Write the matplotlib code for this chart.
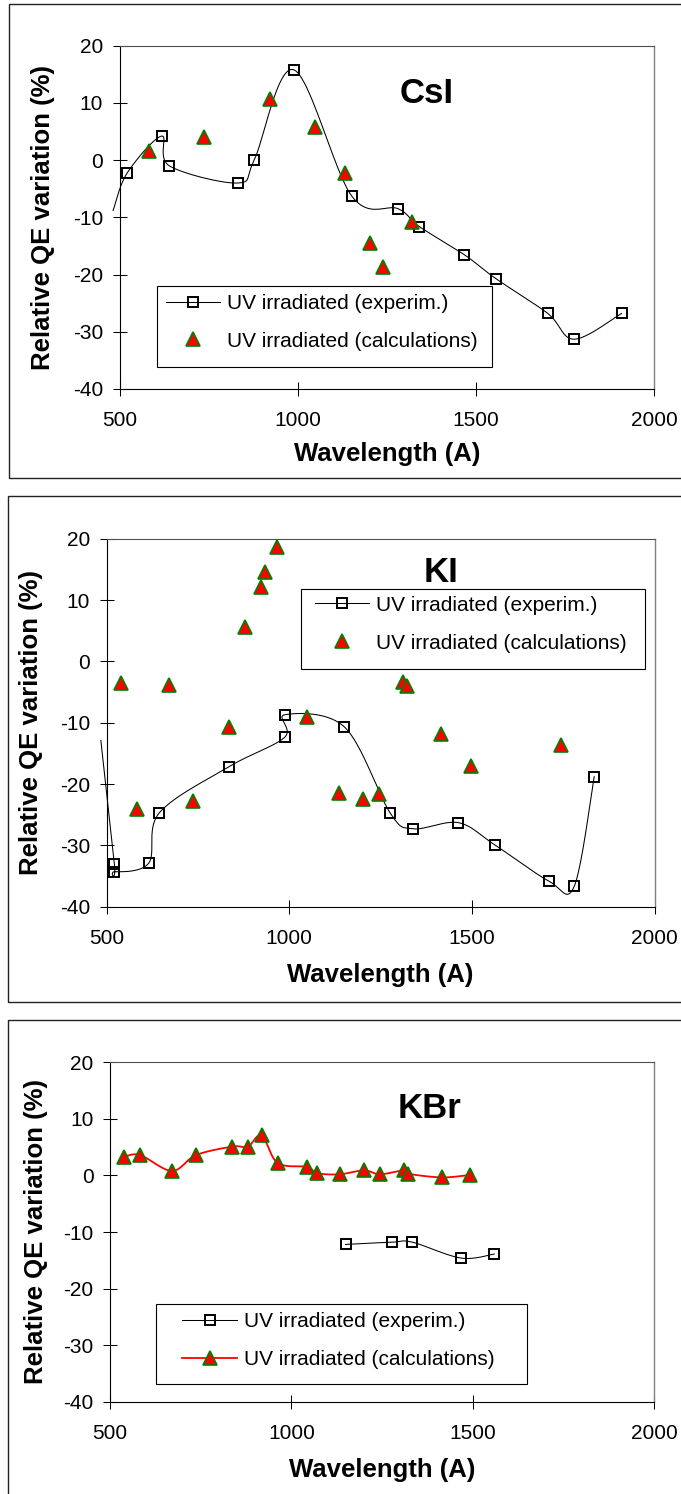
import numpy as np
import matplotlib
matplotlib.use("Agg")
import matplotlib.pyplot as plt
from matplotlib.patches import Rectangle
from matplotlib.lines import Line2D

plt.rcParams['font.family'] = ['Liberation Sans', 'DejaVu Sans']
plt.rcParams['axes.unicode_minus'] = False

# ---- data ----
# first exp. point of CsI and KI only carries the line (it sits left of the axis)
csi_exp_wl = [482, 522, 618, 640, 832, 878, 989, 1152, 1282, 1341, 1467, 1556, 1702, 1776, 1909]
csi_exp_qe = [-8.8, -2.2, 4.2, -1.0, -4.0, 0.0, 15.8, -6.3, -8.5, -11.6, -16.5, -20.7, -26.8, -31.3, -26.8]
csi_calc_wl = [583, 737, 921, 1050, 1134, 1202, 1240, 1320]
csi_calc_qe = [1.6, 4.0, 10.7, 5.8, -2.2, -14.4, -18.7, -10.9]

ki_exp_wl = [484, 521, 521, 615, 644, 834, 987, 988, 1151, 1276, 1338, 1463, 1562, 1710, 1780, 1835]
ki_exp_qe = [-12.9, -33.0, -34.3, -32.9, -24.7, -17.2, -12.4, -8.7, -10.7, -24.7, -27.3, -26.3, -29.9, -35.8, -36.7, -18.8]
ki_calc_wl = [539, 583, 670, 737, 835, 878, 922, 933, 966, 1048, 1136, 1201, 1245, 1312, 1322, 1416, 1497, 1743]
ki_calc_qe = [-3.6, -24.1, -3.8, -22.7, -10.7, 5.6, 12.1, 14.5, 18.6, -9.1, -21.5, -22.5, -21.7, -3.3, -4.0, -11.9, -17.0, -13.6]

kbr_exp_wl = [1149, 1277, 1333, 1467, 1559]
kbr_exp_qe = [-12.2, -11.8, -11.8, -14.6, -13.9]
kbr_calc_wl = [538, 583, 671, 737, 837, 880, 918, 962, 1044, 1070, 1133, 1200, 1244, 1309, 1321, 1415, 1493]
kbr_calc_qe = [3.3, 3.6, 0.8, 3.6, 5.1, 5.1, 7.1, 2.2, 1.5, 0.4, 0.2, 0.9, 0.2, 0.9, 0.3, -0.35, 0.1]

x_ticks = [500, 1000, 1500, 2000]
y_ticks = [-40, -30, -20, -10, 0, 10, 20]
lbl_exp = "UV irradiated (experim.)"
lbl_calc = "UV irradiated (calculations)"
xlabel = "Wavelength (A)"
ylabel = "Relative QE variation (%)"

W, H = 681, 1494
RED = '#ff0000'
GREEN = '#008000'


def smooth(x, y, n=25):
    # excel-like smoothed line (catmull-rom as bezier)
    x = np.asarray(x, float)
    y = np.asarray(y, float)
    p = np.column_stack([x, y])
    p = np.vstack([p[0], p, p[-1]])
    t = np.linspace(0, 1, n)[:, None]
    segs = []
    for i in range(1, len(p) - 2):
        p0, p1, p2, p3 = p[i - 1], p[i], p[i + 1], p[i + 2]
        c1 = p1 + (p2 - p0) / 6
        c2 = p2 - (p3 - p1) / 6
        b = ((1 - t) ** 3) * p1 + 3 * ((1 - t) ** 2) * t * c1 + 3 * (1 - t) * t ** 2 * c2 + t ** 3 * p2
        segs.append(b if i == 1 else b[1:])
    s = np.vstack(segs)
    return s[:, 0], s[:, 1]


def fx(px):
    return px / W


def fy(py):
    return 1 - py / H


fig = plt.figure(figsize=(W / 100, H / 100), dpi=100)

# panel layout in pixels
panels = [
    dict(ax=(119.5, 654.0, 45.7, 389.0), frame=(9.3, 4.0, 477.7), ylab=55.0, xlab=441.5,
         name="CsI", name_xy=(1362, 10.0),
         leg=(157.3, 491.7, 286.5, 367.2), leg_x=166.0, leg_rows=(303.0, 341.7)),
    dict(ax=(106.7, 654.5, 538.7, 906.7), frame=(8.3, 496.0, 1001.7), ylab=43.4, xlab=963.0,
         name="KI", name_xy=(1415, 13.0),
         leg=(301.0, 644.5, 588.7, 668.7), leg_x=315.0, leg_rows=(605.0, 643.3)),
    dict(ax=(110.0, 654.3, 1062.3, 1401.7), frame=(8.3, 1020.0, 1510.0), ylab=47.8, xlab=1458.0,
         name="KBr", name_xy=(1381, 10.1),
         leg=(155.7, 526.6, 1303.9, 1384.0), leg_x=182.5, leg_rows=(1321.7, 1359.3)),
]

exp_data = [(csi_exp_wl, csi_exp_qe, True), (ki_exp_wl, ki_exp_qe, True), (kbr_exp_wl, kbr_exp_qe, False)]
calc_data = [(csi_calc_wl, csi_calc_qe, False), (ki_calc_wl, ki_calc_qe, False), (kbr_calc_wl, kbr_calc_qe, True)]

sq_kw = dict(marker='s', ms=7.8, mfc='none', mec='black', mew=1.4, ls='none')
tri_kw = dict(marker='^', ms=9.4, mfc=RED, mec=GREEN, mew=1.2, ls='none')

for p, (ewl, eqe, hidden_start), (cwl, cqe, calc_line) in zip(panels, exp_data, calc_data):
    l, r, t, b = p['ax']
    ax = fig.add_axes([fx(l), fy(b), fx(r) - fx(l), fy(t) - fy(b)])

    # outer frame of the panel (right edge lies outside the picture)
    fl, ft, fb = p['frame']
    fig.add_artist(Rectangle((fx(fl), fy(fb)), fx(W + 10) - fx(fl), fy(ft) - fy(fb),
                             transform=fig.transFigure, fill=False, ec='#222222', lw=1.0))

    # experimental curve
    sx, sy = smooth(ewl, eqe)
    ax.plot(sx, sy, color='black', lw=0.75, clip_on=False, zorder=2)
    k = 1 if hidden_start else 0
    ax.plot(ewl[k:], eqe[k:], zorder=3, **sq_kw)

    # calculations
    if calc_line:
        cx, cy = smooth(cwl, cqe)
        ax.plot(cx, cy, color=RED, lw=1.3, zorder=2)
    ax.plot(cwl, cqe, zorder=4, **tri_kw)

    ax.set_xlim(500, 2000)
    ax.set_ylim(-40, 20)
    ax.set_xticks(x_ticks)
    ax.set_yticks(y_ticks)
    ax.tick_params(direction='inout', length=9.5, width=0.75, labelsize=15, colors='black')
    ax.tick_params(axis='x', pad=11.3)
    ax.tick_params(axis='y', pad=7.1)
    for side in ['left', 'bottom']:
        ax.spines[side].set_linewidth(0.8)
        ax.spines[side].set_color('black')
    ax.spines['top'].set_color('#505050')
    ax.spines['top'].set_linewidth(0.8)
    ax.spines['right'].set_color('#808080')
    ax.spines['right'].set_linewidth(1.0)

    ax.set_ylabel(ylabel, fontsize=18.5, fontweight='bold')
    ax.yaxis.set_label_coords(fx(p['ylab']), 0.5 * (fy(t) + fy(b)), transform=fig.transFigure)
    ax.set_xlabel(xlabel, fontsize=18.5, fontweight='bold')
    ax.xaxis.set_label_coords(0.5 * (fx(l) + fx(r)), fy(p['xlab']), transform=fig.transFigure)

    ax.text(p['name_xy'][0], p['name_xy'][1], p['name'], fontsize=25, fontweight='bold',
            ha='center', va='baseline')

    # legend
    x0, x1, y0, y1 = p['leg']
    ax.add_patch(Rectangle((fx(x0), fy(y1)), fx(x1) - fx(x0), fy(y0) - fy(y1),
                           transform=fig.transFigure, fc='white', ec='black', lw=0.8,
                           zorder=6, clip_on=False))
    h_exp = Line2D([], [], color='black', lw=0.75, **{k2: v for k2, v in sq_kw.items() if k2 != 'ls'})
    if calc_line:
        h_calc = Line2D([], [], color=RED, lw=1.3, **{k2: v for k2, v in tri_kw.items() if k2 != 'ls'})
    else:
        h_calc = Line2D([], [], **tri_kw)
    r0, r1 = p['leg_rows']
    leg = ax.legend([h_exp, h_calc], [lbl_exp, lbl_calc], loc='center left',
                    bbox_to_anchor=(fx(p['leg_x']), fy(0.5 * (r0 + r1))),
                    bbox_transform=fig.transFigure, frameon=False, borderpad=0,
                    borderaxespad=0, handlelength=2.6, handletextpad=0.35,
                    labelspacing=0.9, fontsize=15, numpoints=1)
    leg.set_zorder(7)

fig.savefig("out.png", dpi=100)
